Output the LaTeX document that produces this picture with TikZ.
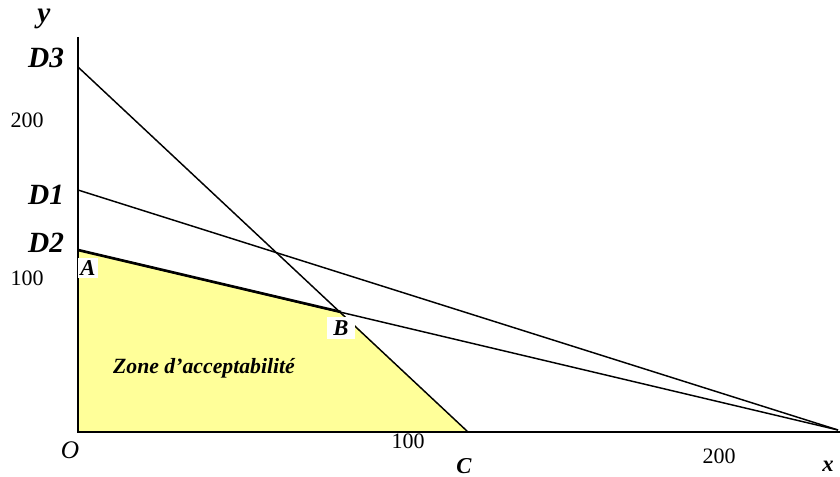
\documentclass[tikz,border=0pt]{standalone}
\usepackage{fontspec}
\setmainfont{Liberation Serif}
\begin{document}
\begin{tikzpicture}[x=0.75pt,y=-0.75pt,
  lbl/.style={font=\fontsize{22}{22}\selectfont\bfseries\itshape, inner sep=0pt},
  pt/.style={font=\fontsize{17}{17}\selectfont\bfseries\itshape, inner sep=1pt},
  num/.style={font=\fontsize{16.5}{16.5}\selectfont, inner sep=0pt},
  ln/.style={line width=1.1pt, black}]
\useasboundingbox (0,0) rectangle (840,477);
\coordinate (O) at (78,432);
\coordinate (Ytop) at (78,37);
\coordinate (Xend) at (840,432);
\coordinate (D3p) at (78,67);
\coordinate (D1p) at (78,190);
\coordinate (D2p) at (78,250);
\coordinate (Bp) at (341,312);
\coordinate (Cp) at (468,432);
\coordinate (E) at (838,430);
% zone
\fill[fill={rgb,255:red,255;green,255;blue,153}] (O) -- (D2p) -- (Bp) -- (Cp) -- cycle;
% axes
\draw[ln] (Ytop) -- (O) -- (Xend);
% lines
\draw[ln] (D3p) -- (Cp);
\draw[ln] (D1p) -- (E);
\draw[ln] (D2p) -- (E);
\draw[line width=2pt] (D2p) -- (Bp);
% labels
\node[lbl] (ylab) at (44,19) {y};
\node[lbl] (D3l) at (46,58) {D3};
\node[lbl] (D1l) at (46,195) {D1};
\node[lbl] (D2l) at (46,243) {D2};
\node[num] (n200y) at (27,120) {200};
\node[num] (n100y) at (27,278) {100};
\node[pt, fill=white, inner sep=2pt] (Al) at (88,268) {A};
\node[pt, fill=white, inner xsep=5pt, inner ysep=3pt] (Bl) at (341,328) {B};
\node[font=\fontsize{19}{19}\selectfont\itshape, inner sep=0pt] (Ol) at (70,450) {O};
\node[num] (n100x) at (408,441) {100};
\node[pt] (Cl) at (464,466) {C};
\node[num] (n200x) at (719,456) {200};
\node[pt] (xl) at (828,466) {x};
\node[font=\fontsize{16.3}{16.3}\selectfont\bfseries\itshape, inner sep=0pt] (zone) at (204,368) {Zone d’acceptabilité};
\end{tikzpicture}
\end{document}
